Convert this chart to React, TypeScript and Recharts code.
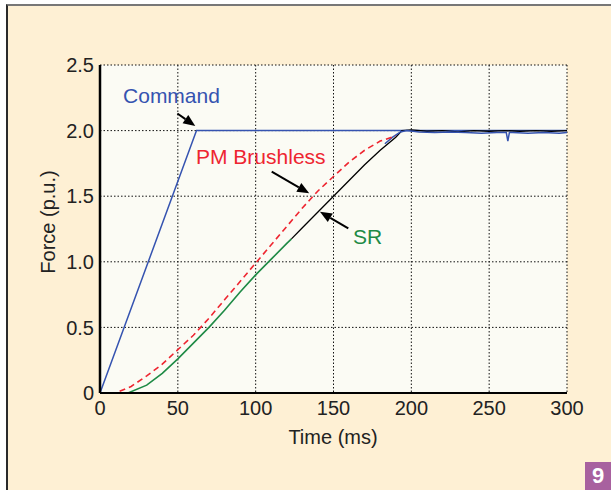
import { CartesianGrid, Line, LineChart, ReferenceDot, ReferenceLine, XAxis, YAxis } from "recharts";

const FONT = "'Liberation Sans', Arial, Helvetica, sans-serif";
const INK = "#222";

const X_TICKS = [0, 50, 100, 150, 200, 250, 300];
const Y_TICKS = [0, 0.5, 1, 1.5, 2, 2.5];

// command ramp
const cmdTime = [0, 62, 300];
const cmdForce = [0, 2, 2];

// PM brushless response (dashed red)
const pmTime = [0, 10, 20, 30, 40, 50, 60, 70, 80, 90, 100, 110, 120, 130, 140, 150, 160, 170, 180, 190];
const pmForce = [0, 0, 0.05, 0.13, 0.22, 0.33, 0.44, 0.57, 0.71, 0.85, 0.99, 1.13, 1.27, 1.41, 1.54, 1.65, 1.76, 1.85, 1.92, 1.96];

// SR response, green part
const srLowTime = [0, 10, 18, 30, 40, 50, 60, 70, 80, 90, 100, 110, 120, 123];
const srLowForce = [0, 0, 0, 0.06, 0.15, 0.26, 0.38, 0.5, 0.63, 0.77, 0.9, 1.02, 1.14, 1.175];

// SR response, black part
const srHighTime = [123, 130, 140, 150, 160, 170, 180, 190, 194, 200, 210, 220, 230, 240, 250, 260, 270, 280, 290, 300];
const srHighForce = [1.175, 1.26, 1.38, 1.5, 1.62, 1.74, 1.85, 1.95, 2.0, 2.005, 1.995, 2.0, 1.99, 2.0, 1.995, 2.0, 1.995, 2.0, 1.995, 2.0];

// measured trace near the top (blue, noisy)
const tailTime = [183, 188, 193, 197, 205, 215, 225, 235, 245, 255, 261, 262, 263, 265, 275, 285, 295, 300];
const tailForce = [1.9, 1.95, 1.99, 2.0, 1.99, 1.985, 1.99, 1.985, 1.98, 1.985, 1.985, 1.92, 1.985, 1.985, 1.98, 1.985, 1.98, 1.985];

const zip = (t: number[], f: number[]) => t.map((v, i) => ({ t: v, f: f[i] }));

const cmdData = zip(cmdTime, cmdForce);
const pmData = zip(pmTime, pmForce);
const srLowData = zip(srLowTime, srLowForce);
const srHighData = zip(srHighTime, srHighForce);
const tailData = zip(tailTime, tailForce);

const arrow = (props: any) => {
  const { x1, y1, x2, y2 } = props;
  const ang = Math.atan2(y2 - y1, x2 - x1);
  const len = 12;
  const w = 5;
  const bx = x2 - len * Math.cos(ang);
  const by = y2 - len * Math.sin(ang);
  const px = -Math.sin(ang) * w;
  const py = Math.cos(ang) * w;
  return (
    <g>
      <line x1={x1} y1={y1} x2={bx} y2={by} stroke="#000" strokeWidth={2} />
      <polygon points={`${x2},${y2} ${bx + px},${by + py} ${bx - px},${by - py}`} fill="#000" />
    </g>
  );
};

const note = (text: string, color: string) => ({
  value: text,
  position: "right" as const,
  offset: 0,
  fill: color,
  fontSize: 21,
  fontFamily: FONT,
});

export default function App() {
  return (
    <div style={{ position: "absolute", left: 0, top: 0, width: 611, height: 490, background: "#fff", overflow: "hidden" }}>
      <div
        style={{
          position: "absolute",
          left: 6,
          top: 4,
          width: 605,
          height: 486,
          boxSizing: "border-box",
          background: "#FEF0D4",
          borderLeft: "2px solid #2a2a2a",
          borderTop: "2px solid #777",
        }}
      />
      <div style={{ position: "absolute", left: 0, top: 0 }}>
        <LineChart width={611} height={490} margin={{ top: 65, right: 44, bottom: 57, left: 40 }}>
          <CartesianGrid fill="#FBFBF4" stroke="#111" strokeDasharray="1.5 2" />
          <XAxis
            type="number"
            dataKey="t"
            domain={[0, 300]}
            ticks={X_TICKS}
            height={40}
            tickLine={false}
            axisLine={{ stroke: "#000", strokeWidth: 2 }}
            tick={{ fill: INK, fontSize: 20, fontFamily: FONT }}
            label={{
              content: () => (
                <text x={333} y={437} textAnchor="middle" dominantBaseline="central" fill={INK} fontSize={20} fontFamily={FONT}>
                  Time (ms)
                </text>
              ),
            }}
          />
          <XAxis xAxisId="top" orientation="top" type="number" domain={[0, 300]} height={0} tick={false} tickLine={false} axisLine={{ stroke: "#000", strokeWidth: 2 }} />
          <YAxis
            type="number"
            domain={[0, 2.5]}
            ticks={Y_TICKS}
            width={60}
            tickLine={false}
            tickMargin={0}
            axisLine={{ stroke: "#000", strokeWidth: 2.5 }}
            tick={{ fill: INK, fontSize: 20, fontFamily: FONT }}
            tickFormatter={(v: number) => (v === 0 ? "0" : v.toFixed(1))}
            label={{
              content: () => (
                <text x={48} y={222} transform="rotate(-90 48 222)" textAnchor="middle" dominantBaseline="central" fill={INK} fontSize={20} fontFamily={FONT}>
                  Force (p.u.)
                </text>
              ),
            }}
          />
          <YAxis yAxisId="right" orientation="right" domain={[0, 2.5]} width={0} tick={false} tickLine={false} axisLine={{ stroke: "#000", strokeWidth: 2 }} />

          <Line data={cmdData} dataKey="f" type="linear" stroke="#3553B0" strokeWidth={1.5} dot={false} isAnimationActive={false} />
          <Line data={srLowData} dataKey="f" type="linear" stroke="#1E8A45" strokeWidth={1.6} dot={false} isAnimationActive={false} />
          <Line data={srHighData} dataKey="f" type="linear" stroke="#000" strokeWidth={1.3} dot={false} isAnimationActive={false} />
          <Line data={tailData} dataKey="f" type="linear" stroke="#3553B0" strokeWidth={1.5} dot={false} isAnimationActive={false} />
          <Line data={pmData} dataKey="f" type="linear" stroke="#EE2530" strokeWidth={1.6} strokeDasharray="6 4" dot={false} isAnimationActive={false} />

          <ReferenceLine segment={[{ x: 49.7, y: 2.13 }, { x: 61.2, y: 2.035 }]} shape={arrow} />
          <ReferenceLine segment={[{ x: 110.3, y: 1.687 }, { x: 134.4, y: 1.522 }]} shape={arrow} />
          <ReferenceLine segment={[{ x: 159.5, y: 1.255 }, { x: 141.3, y: 1.382 }]} shape={arrow} />

          <ReferenceDot x={14.8} y={2.27} r={0} fill="none" stroke="none" label={note("Command", "#3553B0")} />
          <ReferenceDot x={61.7} y={1.806} r={0} fill="none" stroke="none" label={note("PM Brushless", "#EE2530")} />
          <ReferenceDot x={162.5} y={1.19} r={0} fill="none" stroke="none" label={note("SR", "#1E8A45")} />
        </LineChart>
      </div>
      <div
        style={{
          position: "absolute",
          left: 585,
          top: 462,
          width: 26,
          height: 28,
          background: "#A8619F",
          color: "#fff",
          fontFamily: FONT,
          fontWeight: "bold",
          fontSize: 22,
          lineHeight: "28px",
          textAlign: "center",
        }}
      >
        9
      </div>
    </div>
  );
}
